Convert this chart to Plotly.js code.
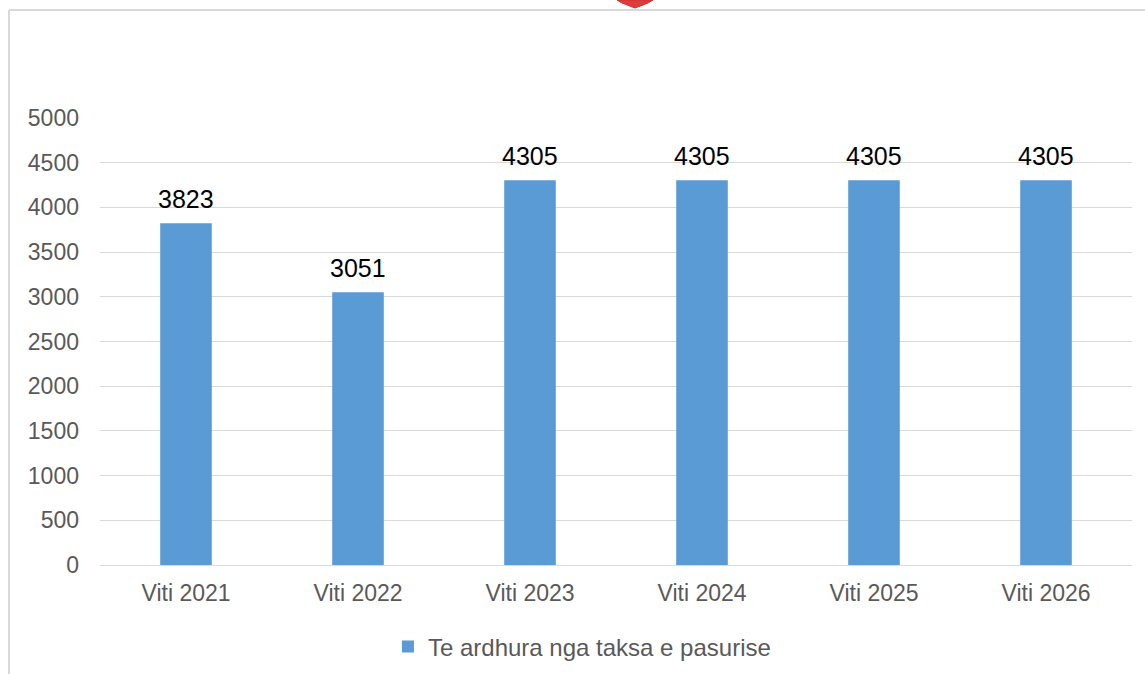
<!DOCTYPE html>
<html>
<head>
<meta charset="utf-8">
<script src="https://cdn.plot.ly/plotly-3.0.1.min.js"></script>
<style>html,body{margin:0;padding:0;background:#fff;}#chart{width:1145px;height:674px;}</style>
</head>
<body>
<div id="chart"></div>
<script>
const categories = ["Viti 2021", "Viti 2022", "Viti 2023", "Viti 2024", "Viti 2025", "Viti 2026"];
const values = [3823, 3051, 4305, 4305, 4305, 4305];
const seriesName = "Te ardhura nga taksa e pasurise";
const yTicks = [0, 500, 1000, 1500, 2000, 2500, 3000, 3500, 4000, 4500, 5000];

const FONT = "Liberation Sans, Arial, sans-serif";

const trace = {
  type: "bar",
  x: categories,
  y: values,
  name: seriesName,
  marker: {color: "#5B9BD5"},
  hoverinfo: "x+y"
};

const labels = categories.map((c, i) => ({
  x: c, y: values[i], xref: "x", yref: "y",
  text: String(values[i]), showarrow: false,
  yanchor: "bottom", yshift: 8,
  font: {family: FONT, size: 25, color: "#000000"}
}));

const layout = {
  width: 1145, height: 674,
  margin: {l: 100, r: 13, t: 118, b: 109, autoexpand: false},
  paper_bgcolor: "#ffffff",
  plot_bgcolor: "#ffffff",
  bargap: 0.7,
  showlegend: true,
  legend: {
    orientation: "h", x: 0.467, xanchor: "center", y: -0.183, yanchor: "middle",
    font: {family: FONT, size: 24, color: "#595959"},
    itemwidth: 30
  },
  xaxis: {
    type: "category", automargin: false,
    tickfont: {family: FONT, size: 23, color: "#595959"},
    showline: true, linecolor: "#d9d9d9", linewidth: 1,
    ticks: "", ticklabelstandoff: 7
  },
  yaxis: {
    range: [0, 5000], automargin: false,
    tickvals: yTicks,
    ticktext: yTicks.map(String),
    tickfont: {family: FONT, size: 23, color: "#595959"},
    showgrid: true, gridcolor: "#d9d9d9", gridwidth: 1,
    zeroline: false, showline: false, ticks: "",
    ticklabelstandoff: 20
  },
  annotations: labels,
  shapes: [
    {type: "line", xref: "paper", yref: "paper", x0: -0.0882, x1: 1.02, y0: 1.2416, y1: 1.2416,
     line: {color: "#d9d9d9", width: 2}},
    {type: "line", xref: "paper", yref: "paper", x0: -0.0882, x1: -0.0882, y0: 1.2416, y1: -0.245,
     line: {color: "#d9d9d9", width: 2}},
    {type: "path", xref: "paper", yref: "paper",
     path: "M 0.5010 1.2640 L 0.5058 1.2573 L 0.5184 1.2461 L 0.5310 1.2573 L 0.5359 1.2640 Z",
     fillcolor: "#e03c3c", line: {color: "#c83232", width: 1}}
  ]
};

Plotly.newPlot("chart", [trace], layout, {displayModeBar: false, staticPlot: true});
</script>
</body>
</html>
